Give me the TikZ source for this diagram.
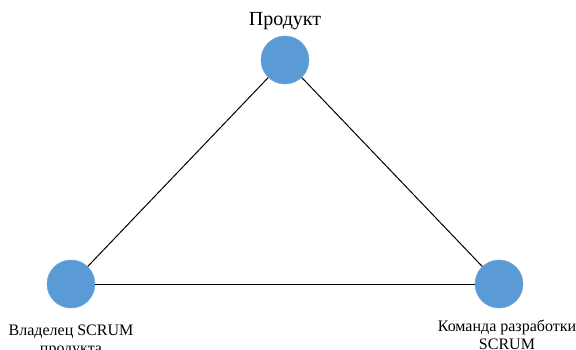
\documentclass[tikz,border=0pt]{standalone}
\usepackage{fontspec}
\setmainfont{Liberation Serif}
\usepackage{tikz}
\usetikzlibrary{positioning}
\usepackage{xcolor}
\definecolor{Dot}{HTML}{5B9BD5}
\definecolor{DotEdge}{HTML}{6FA8DC}

\begin{document}
\begin{tikzpicture}[x=0.75pt, y=-0.75pt, font=\fontsize{12}{13.5}\selectfont]
  \useasboundingbox (0,0) rectangle (576,350);
  \node[circle, draw=DotEdge, fill=Dot, minimum size=36pt, inner sep=0pt]
    (prod) at (285,60) {};
  \node[circle, draw=DotEdge, fill=Dot, minimum size=36pt, inner sep=0pt]
    (owner) at (71,284) {};
  \node[circle, draw=DotEdge, fill=Dot, minimum size=36pt, inner sep=0pt]
    (team) at (499,284) {};
  \node[above=1pt of prod, font=\fontsize{15}{18}\selectfont] (prodlbl) {Продукт};
  \node[below=12pt of owner, align=center, inner sep=0pt] (ownerlbl)
    {Владелец SCRUM\\продукта};
  \node[below=9pt of team, align=center, inner sep=0pt, xshift=6pt] (teamlbl)
    {Команда разработки\\SCRUM};
  \draw[line width=0.75pt] (prod) -- (owner);
  \draw[line width=0.75pt] (prod) -- (team);
  \draw[line width=0.75pt] (owner) -- (team);
\end{tikzpicture}
\end{document}
